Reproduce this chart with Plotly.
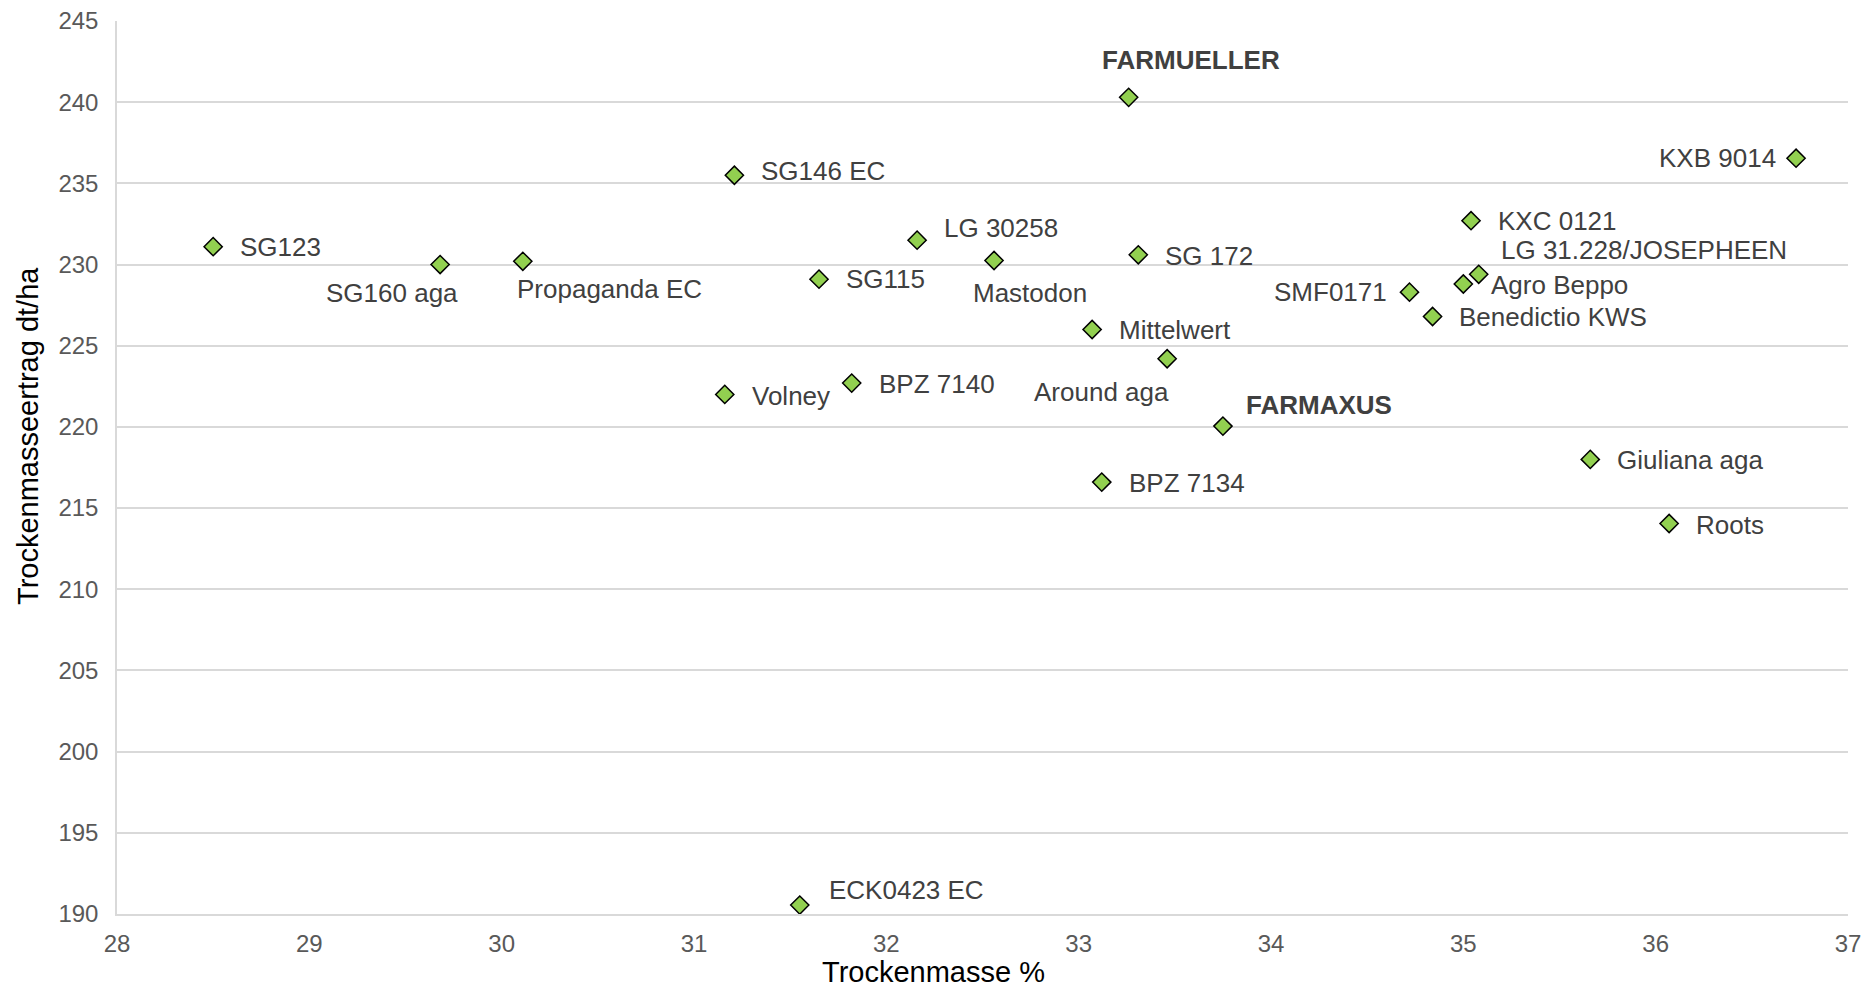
import plotly.graph_objects as go

# Data
sorten = ["SG123", "SG160 aga", "Propaganda EC", "SG146 EC", "SG115", "LG 30258",
          "Mastodon", "FARMUELLER", "SG 172", "Mittelwert", "Around aga", "FARMAXUS",
          "BPZ 7134", "Volney", "BPZ 7140", "ECK0423 EC", "SMF0171", "Benedictio KWS",
          "Agro Beppo", "LG 31.228/JOSEPHEEN", "KXC 0121", "KXB 9014", "Giuliana aga", "Roots"]
trockenmasse = [28.50, 29.68, 30.11, 31.21, 31.65, 32.16,
                32.56, 33.26, 33.31, 33.07, 33.46, 33.75,
                33.12, 31.16, 31.82, 31.55, 34.72, 34.84,
                35.00, 35.08, 35.04, 36.73, 35.66, 36.07]
ertrag = [231.1, 230.0, 230.2, 235.5, 229.1, 231.5,
          230.25, 240.3, 230.6, 226.0, 224.2, 220.05,
          216.6, 222.0, 222.7, 190.55, 228.3, 226.8,
          228.8, 229.4, 232.7, 236.55, 218.0, 214.05]
bold_labels = ["FARMUELLER", "FARMAXUS"]

x_ticks = list(range(28, 38))
y_ticks = list(range(190, 250, 5))

# label placement (xanchor, xshift, yshift) per point
placement = {
    "SG123": ("left", 25, 0),
    "SG160 aga": ("right", 20, -28),
    "Propaganda EC": ("left", -8, -28),
    "SG146 EC": ("left", 25, 4),
    "SG115": ("left", 25, 0),
    "LG 30258": ("left", 25, 12),
    "Mastodon": ("left", -23, -33),
    "FARMUELLER": ("left", -29, 37),
    "SG 172": ("left", 25, -1),
    "Mittelwert": ("left", 25, -1),
    "Around aga": ("right", 4, -33),
    "FARMAXUS": ("left", 21, 21),
    "BPZ 7134": ("left", 25, -1),
    "Volney": ("left", 25, -2),
    "BPZ 7140": ("left", 25, -1),
    "ECK0423 EC": ("left", 27, 15),
    "SMF0171": ("right", -20, 0),
    "Benedictio KWS": ("left", 24, 0),
    "Agro Beppo": ("left", 26, -1),
    "LG 31.228/JOSEPHEEN": ("left", 20, 24),
    "KXC 0121": ("left", 25, 0),
    "KXB 9014": ("right", -18, 0),
    "Giuliana aga": ("left", 25, -1),
    "Roots": ("left", 25, -1),
}

FONT = "Arial, Liberation Sans, sans-serif"

fig = go.Figure()
fig.add_trace(go.Scatter(
    x=trockenmasse, y=ertrag, mode="markers", text=sorten,
    marker=dict(symbol="diamond", size=14, color="#92D050",
                line=dict(color="#000000", width=1.5)),
    hoverinfo="text+x+y", showlegend=False,
))

annotations = []
for name, xv, yv in zip(sorten, trockenmasse, ertrag):
    anchor, xs, ys = placement[name]
    is_bold = name in bold_labels
    annotations.append(dict(
        x=xv, y=yv, xref="x", yref="y", showarrow=False,
        text=f"<b>{name}</b>" if is_bold else name,
        xanchor=anchor, yanchor="middle", xshift=xs, yshift=ys,
        font=dict(family=FONT, size=26, color="#404040"),
    ))

# axis titles (placed like in the reference)
annotations.append(dict(
    text="Trockenmasseertrag dt/ha", xref="paper", yref="paper",
    x=(28 - 117) / 1731, y=(914 - 436) / 893, textangle=-90,
    showarrow=False, xanchor="center", yanchor="middle",
    font=dict(family=FONT, size=29, color="#000000"),
))
annotations.append(dict(
    text="Trockenmasse %", xref="paper", yref="paper",
    x=(933 - 117) / 1731, y=(914 - 972) / 893,
    showarrow=False, xanchor="center", yanchor="middle",
    font=dict(family=FONT, size=29, color="#000000"),
))

fig.update_layout(
    width=1874, height=987,
    margin=dict(l=117, r=26, t=21, b=73),
    paper_bgcolor="white", plot_bgcolor="white",
    annotations=annotations,
    xaxis=dict(range=[28, 37], tickvals=x_ticks, ticktext=[str(v) for v in x_ticks],
               showgrid=False, zeroline=False, showline=True, linecolor="#D9D9D9",
               linewidth=1.5, ticks="", ticklabelstandoff=7, automargin=False,
               tickfont=dict(family=FONT, size=24, color="#595959")),
    yaxis=dict(range=[190, 245], tickvals=y_ticks, ticktext=[str(v) for v in y_ticks],
               showgrid=True, gridcolor="#D9D9D9", gridwidth=1.5,
               zeroline=False, showline=True, linecolor="#D9D9D9", linewidth=1.5,
               ticks="", ticklabelstandoff=12, automargin=False,
               tickfont=dict(family=FONT, size=24, color="#595959")),
)

fig.write_html("out.html", config={"displayModeBar": False},
               post_script="document.body.style.margin='0';")
